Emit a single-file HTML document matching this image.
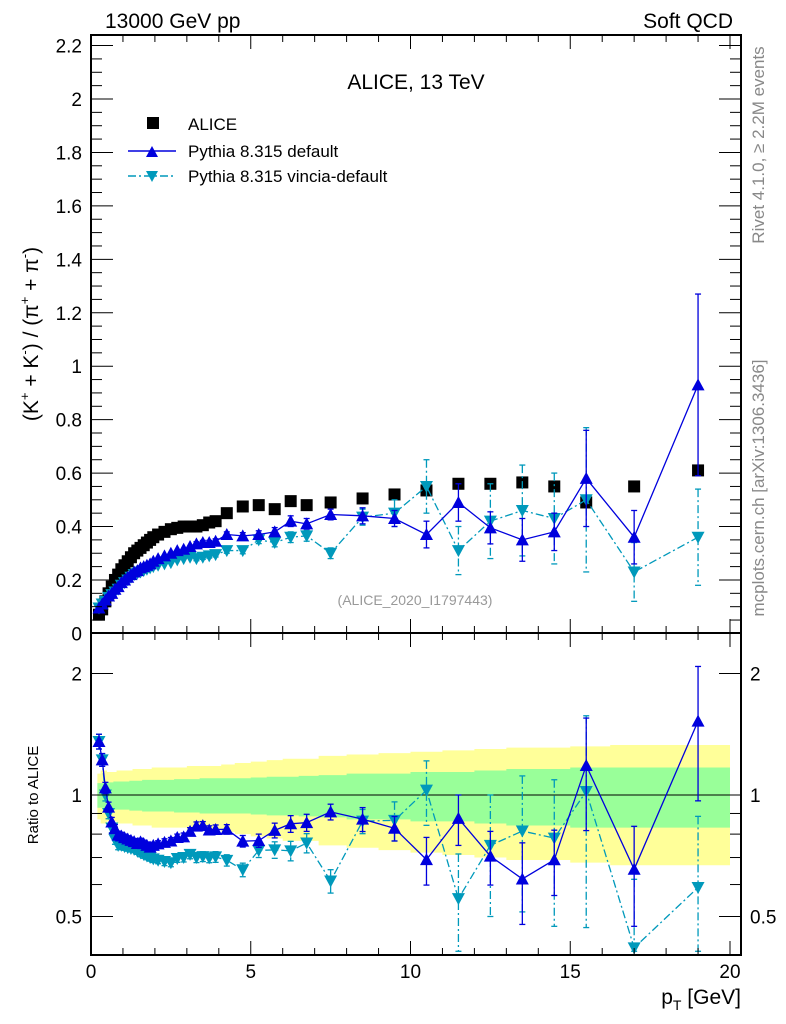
<!DOCTYPE html>
<html><head><meta charset="utf-8"><style>
html,body{margin:0;padding:0;background:#fff;}
svg{display:block;font-family:"Liberation Sans",Arial,sans-serif;}
</style></head><body>
<svg id="chart" width="786" height="1024" viewBox="0 0 786 1024" xmlns="http://www.w3.org/2000/svg">
<g id="bands"></g>
<g id="marks"></g>
<g id="axes"></g>
<text x="105" y="28" font-size="21">13000 GeV pp</text>
<text x="733" y="28" font-size="21" text-anchor="end">Soft QCD</text>
<text x="416" y="89" font-size="21" text-anchor="middle">ALICE, 13 TeV</text>
<text x="415" y="605" font-size="14" fill="#999" text-anchor="middle">(ALICE_2020_I1797443)</text>
<g>
<rect x="147" y="117" width="12" height="12" fill="#000"/>
<text x="188" y="130" font-size="17">ALICE</text>
<line x1="128" y1="151" x2="176" y2="151" stroke="#0000dd" stroke-width="1.5"/>
<polygon points="146,157 158,157 152,146" fill="#0000dd"/>
<text x="188" y="157" font-size="17">Pythia 8.315 default</text>
<line x1="128" y1="176" x2="176" y2="176" stroke="#0099bb" stroke-width="1.5" stroke-dasharray="8,3,2,3"/>
<polygon points="146,171 158,171 152,182" fill="#0099bb"/>
<text x="188" y="182" font-size="17">Pythia 8.315 vincia-default</text>
</g>
<text transform="translate(38,334) rotate(-90)" font-size="21" text-anchor="middle">(K<tspan font-size="13" dy="-9">+</tspan><tspan dy="9"> + K</tspan><tspan font-size="13" dy="-9">-</tspan><tspan dy="9">) / (π</tspan><tspan font-size="13" dy="-9">+</tspan><tspan dy="9"> + π</tspan><tspan font-size="13" dy="-9">-</tspan><tspan dy="9">)</tspan></text>
<text transform="translate(38,795) rotate(-90)" font-size="15" text-anchor="middle">Ratio to ALICE</text>
<text x="741" y="1004" font-size="21" text-anchor="end">p<tspan font-size="14" dy="6">T</tspan><tspan dy="-6"> [GeV]</tspan></text>
<text transform="translate(764,145) rotate(-90)" font-size="17" fill="#888" text-anchor="middle">Rivet 4.1.0, ≥ 2.2M events</text>
<text transform="translate(764,488) rotate(-90)" font-size="17" fill="#888" text-anchor="middle">mcplots.cern.ch [arXiv:1306.3436]</text>
</svg>
<script>
const pT = [0.25,0.35,0.45,0.55,0.65,0.75,0.85,0.95,1.05,1.15,1.25,1.35,1.45,1.55,1.65,1.75,1.85,1.95,2.1,2.3,2.5,2.7,2.9,3.1,3.3,3.5,3.7,3.9,4.25,4.75,5.25,5.75,6.25,6.75,7.5,8.5,9.5,10.5,11.5,12.5,13.5,14.5,15.5,17,19];
const aliceVals = [.07,.09,.12,.15,.175,.20,.22,.24,.255,.27,.285,.30,.31,.32,.33,.34,.35,.36,.37,.38,.39,.395,.40,.40,.40,.405,.415,.42,.45,.475,.48,.465,.495,.48,.49,.505,.52,.535,.56,.56,.565,.55,.49,.55,.61];
const defaultVals = [.095,.11,.125,.14,.15,.165,.175,.19,.20,.21,.22,.23,.235,.245,.25,.255,.26,.27,.28,.29,.30,.31,.315,.325,.335,.34,.34,.345,.37,.365,.37,.38,.42,.41,.445,.44,.43,.37,.49,.395,.35,.38,.58,.36,.93];
const defaultErr = [.004,.004,.004,.004,.004,.004,.004,.004,.004,.004,.004,.004,.004,.005,.005,.005,.005,.005,.005,.006,.006,.006,.007,.007,.008,.008,.008,.009,.01,.012,.014,.016,.02,.02,.02,.03,.03,.05,.07,.06,.08,.07,.18,.10,.34];
const vinciaVals = [.095,.11,.12,.135,.145,.155,.165,.18,.19,.2,.21,.22,.225,.23,.235,.24,.245,.25,.255,.26,.265,.275,.28,.285,.28,.285,.29,.295,.31,.31,.35,.34,.36,.365,.30,.435,.45,.55,.31,.42,.46,.43,.50,.23,.36];
const vinciaErr = [.004,.004,.004,.004,.004,.004,.004,.004,.004,.004,.004,.004,.004,.005,.005,.005,.005,.005,.005,.006,.006,.006,.007,.007,.008,.008,.008,.009,.01,.012,.014,.016,.02,.02,.02,.03,.05,.10,.09,.14,.17,.17,.27,.11,.18];
const greenErr = [.07,.07,.075,.075,.075,.08,.08,.08,.08,.08,.085,.085,.085,.085,.09,.09,.09,.09,.09,.09,.09,.095,.095,.095,.095,.1,.1,.1,.1,.1,.105,.11,.11,.115,.12,.13,.13,.14,.14,.15,.16,.16,.17,.17,.17];
const yellowErr = [.13,.15,.15,.14,.14,.14,.15,.15,.15,.15,.15,.16,.16,.16,.16,.16,.16,.17,.17,.17,.17,.17,.17,.18,.18,.18,.18,.18,.19,.2,.21,.22,.23,.23,.25,.26,.27,.28,.29,.3,.31,.31,.32,.33,.33];
const xTicks = [0,5,10,15,20];
const yTicks = [0,0.2,0.4,0.6,0.8,1,1.2,1.4,1.6,1.8,2,2.2];
const yTickLabels = ["0","0.2","0.4","0.6","0.8","1","1.2","1.4","1.6","1.8","2","2.2"];
const rTicks = [0.5,1,2];
const rTickLabels = ["0.5","1","2"];

const NS="http://www.w3.org/2000/svg";
const L=91,R=741,T=35,MB=633,RB=955;
const x=v=>L+v*(730-L)/20;
const y=v=>633.4-v*267.2;
const r=v=>795-Math.log2(v)*121.5;
function mk(tag,attrs,parent){const e=document.createElementNS(NS,tag);for(const k in attrs)e.setAttribute(k,attrs[k]);parent.appendChild(e);return e;}
const gB=document.getElementById('bands'),gM=document.getElementById('marks'),gA=document.getElementById('axes');

const edges=[];for(let i=0;i<pT.length;i++){const lo=i==0?pT[0]-(pT[1]-pT[0])/2:(pT[i-1]+pT[i])/2;const hi=i==pT.length-1?pT[i]+(pT[i]-pT[i-1])/2:(pT[i]+pT[i+1])/2;edges.push([lo,Math.min(hi,20)]);}
function band(err,color,name){let top='',bot='';for(let i=0;i<pT.length;i++){const [a,b]=edges[i];top+=`${x(a)},${r(1+err[i])} ${x(b)},${r(1+err[i])} `;bot=`${x(b)},${r(1-err[i])} ${x(a)},${r(1-err[i])} `+bot;}
 const p=mk('polygon',{points:top+bot,fill:color},gB);
 
 }
band(yellowErr,'#ffff99','total-uncertainty-band');
band(greenErr,'#99ff99','stat-uncertainty-band');
mk('line',{x1:L,x2:R,y1:r(1),y2:r(1),stroke:'#000','stroke-width':1},gB);

function clipR(v){return Math.max(0.403,Math.min(2.5,v));}
function series(vals,err,color,dash,up,name){
 let pm='',pr='';
 const g=mk('g',{},gM);
 
 
 for(let i=0;i<pT.length;i++){pm+=`${x(pT[i])},${y(vals[i])} `;pr+=`${x(pT[i])},${r(clipR(vals[i]/aliceVals[i]))} `;}
 const s={fill:'none',stroke:color,'stroke-width':1.3};if(dash)s['stroke-dasharray']=dash;
 mk('polyline',Object.assign({points:pm},s),g);
 mk('polyline',Object.assign({points:pr},s),g);
 for(let i=0;i<pT.length;i++){
  const X=x(pT[i]);
  const rv=vals[i]/aliceVals[i],re=err[i]/aliceVals[i];
  [[y(vals[i]+err[i]),y(vals[i]-err[i]),y(vals[i])],[r(clipR(rv+re)),r(clipR(Math.max(rv-re,0.41))),r(clipR(rv))]].forEach(([a,b,c])=>{
   if(b-a>4){mk('line',{x1:X,x2:X,y1:a,y2:b,stroke:color,'stroke-width':1.3,'stroke-dasharray':dash||'none'},g);
    mk('line',{x1:X-3,x2:X+3,y1:a,y2:a,stroke:color,'stroke-width':1.3},g);mk('line',{x1:X-3,x2:X+3,y1:b,y2:b,stroke:color,'stroke-width':1.3},g);}
   const pts=up?`${X-6.5},${c+5.5} ${X+6.5},${c+5.5} ${X},${c-6.5}`:`${X-6.5},${c-5.5} ${X+6.5},${c-5.5} ${X},${c+6.5}`;
   const m=mk('polygon',{points:pts,fill:color},g);
   
   
  });
 }
}
const ga=mk('g',{},gM);


for(let i=0;i<pT.length;i++){const m=mk('rect',{x:x(pT[i])-6,y:y(aliceVals[i])-6,width:12,height:12,fill:'#000'},ga);
 
 }
series(vinciaVals,vinciaErr,'#0099bb','8,3,2,3',false,'vincia-series');
series(defaultVals,defaultErr,'#0000dd',null,true,'default-series');

mk('rect',{x:L,y:T,width:R-L,height:MB-T,fill:'none',stroke:'#000','stroke-width':2},gA);
mk('rect',{x:L,y:MB,width:R-L,height:RB-MB,fill:'none',stroke:'#000','stroke-width':2},gA);
for(let v=0;v<=20;v++){const X=x(v),maj=v%5==0,len=maj?14:7;
 [[T,1],[MB,-1],[MB,1],[RB,-1]].forEach(([b,d])=>mk('line',{x1:X,x2:X,y1:b,y2:b+d*len,stroke:'#000','stroke-width':1},gA));}
xTicks.forEach(v=>{const t=mk('text',{x:x(v),y:978,'font-size':19,'text-anchor':'middle'},gA);t.textContent=v;
 
 });
for(let k=0;k<=44;k++){const v=k*0.05,Y=y(v),maj=k%4==0,len=maj?22:11;if(Y<T)continue;
 mk('line',{x1:L,x2:L+len,y1:Y,y2:Y,stroke:'#000','stroke-width':1},gA);mk('line',{x1:R,x2:R-len,y1:Y,y2:Y,stroke:'#000','stroke-width':1},gA);}
yTicks.forEach((v,i)=>{const t=mk('text',{x:82,y:y(v)+7,'font-size':19,'text-anchor':'end'},gA);t.textContent=yTickLabels[i];
 
 });
[0.5,0.6,0.7,0.8,0.9,1,2].forEach(v=>{const Y=r(v),maj=(v==0.5||v==1||v==2),len=maj?22:11;
 mk('line',{x1:L,x2:L+len,y1:Y,y2:Y,stroke:'#000','stroke-width':1},gA);mk('line',{x1:R,x2:R-len,y1:Y,y2:Y,stroke:'#000','stroke-width':1},gA);});
rTicks.forEach((v,i)=>{const t=mk('text',{x:82,y:r(v)+7,'font-size':19,'text-anchor':'end'},gA);t.textContent=rTickLabels[i];
 
 
 const t2=mk('text',{x:750,y:r(v)+7,'font-size':19},gA);t2.textContent=rTickLabels[i];
 
 });
</script>
</body></html>
